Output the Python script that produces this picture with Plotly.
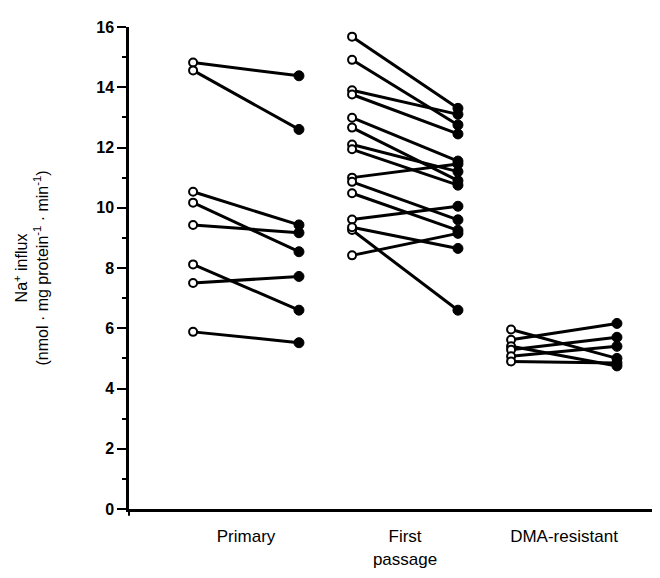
import plotly.graph_objects as go

categories = ["Primary", "First<br>passage", "DMA-resistant"]

primary_before = [14.82, 14.56, 10.53, 10.17, 9.43, 8.12, 7.50, 5.88]
primary_after = [14.38, 12.60, 9.43, 8.54, 9.17, 6.60, 7.72, 5.52]

first_before = [15.68, 14.91, 13.90, 13.76, 12.99, 12.66, 12.10, 11.94, 11.00, 10.86, 10.48, 9.61, 9.26, 9.35, 8.42]
first_after = [13.30, 12.75, 13.10, 12.45, 11.55, 10.90, 11.20, 10.75, 11.45, 9.60, 9.25, 10.05, 6.60, 8.65, 9.15]

dma_before = [5.96, 5.62, 5.40, 5.29, 5.07, 4.90]
dma_after = [5.00, 6.16, 4.75, 5.70, 5.40, 4.85]

groups = [(primary_before, primary_after), (first_before, first_after), (dma_before, dma_after)]
offset = 0.333

fig = go.Figure()
ox, oy, cx, cy = [], [], [], []
for gi, (before, after) in enumerate(groups):
    for b, a in zip(before, after):
        fig.add_trace(go.Scatter(x=[gi - offset, gi + offset], y=[b, a], mode="lines",
                                 line=dict(color="black", width=3), showlegend=False,
                                 hoverinfo="skip"))
        ox.append(gi - offset); oy.append(b)
        cx.append(gi + offset); cy.append(a)

fig.add_trace(go.Scatter(x=ox, y=oy, mode="markers", showlegend=False,
                         marker=dict(symbol="circle", size=8, color="white",
                                     line=dict(color="black", width=2))))
fig.add_trace(go.Scatter(x=cx, y=cy, mode="markers", showlegend=False,
                         marker=dict(symbol="circle", size=10, color="black",
                                     line=dict(color="black", width=1))))

font = dict(family="Liberation Sans, Arial, sans-serif", color="black")

# small downward extension of the y-axis below zero (as in the reference)
fig.add_shape(type="line", xref="paper", yref="paper", x0=0, x1=0, y0=0, y1=-0.014,
              line=dict(color="black", width=2))

fig.update_layout(
    width=660, height=578,
    margin=dict(l=121, r=0, t=19, b=77),
    paper_bgcolor="white", plot_bgcolor="white",
    font=dict(**font, size=15),
    xaxis=dict(range=[-0.736, 2.654], tickmode="array", tickvals=[0, 1, 2],
               ticktext=categories, ticks="", showgrid=False, zeroline=False,
               showline=True, linecolor="black", linewidth=3,
               tickfont=dict(**font, size=17), ticklabelstandoff=10),
    yaxis=dict(range=[0, 16], tickvals=[0, 2, 4, 6, 8, 10, 12, 14, 16],
               ticks="outside", ticklen=9, tickwidth=2, tickcolor="black",
               minor=dict(tickvals=[1, 3, 5, 7, 9, 11, 13, 15], ticks="outside",
                          ticklen=4, tickwidth=2, tickcolor="black"),
               showgrid=False, zeroline=False, showline=True, linecolor="black",
               linewidth=2.5, tickfont=dict(family="Liberation Sans, Arial, sans-serif",
                                            size=16, color="black", weight="bold"),
               title=dict(text="Na<sup>+</sup> influx<br>(nmol · mg protein<sup>-1</sup> · min<sup>-1</sup>)",
                          font=dict(**font, size=16), standoff=44)),
)

fig.write_html("out.html")
